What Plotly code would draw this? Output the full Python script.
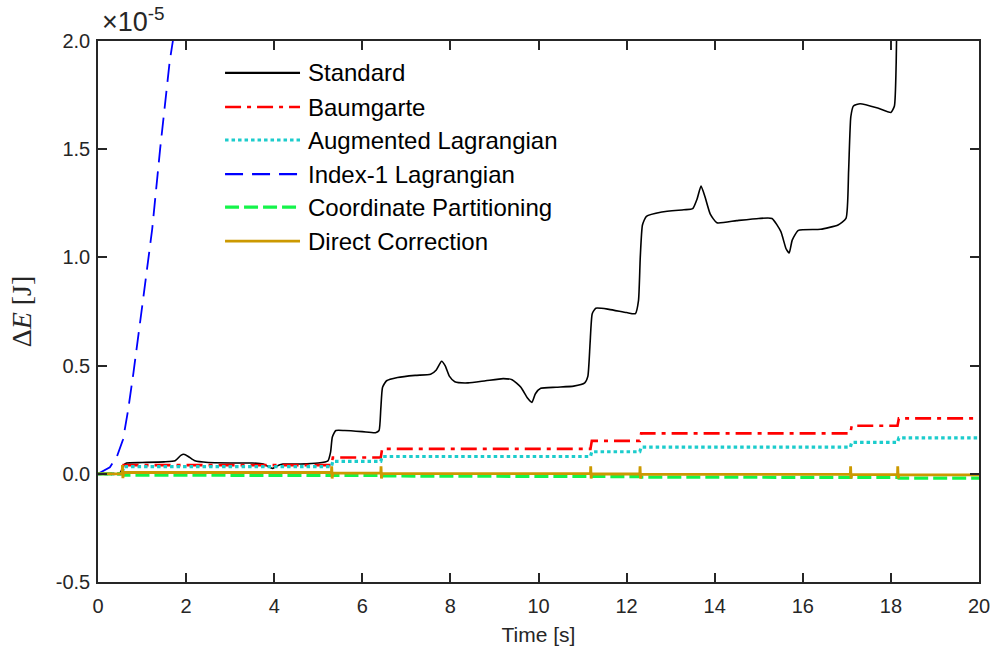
import plotly.graph_objects as go

# Energy drift of the different constraint-stabilisation schemes, in units of 1e-5 J
T_END = 20.0

# Standard (unstabilised) formulation
std_t = [0, 0.45, 0.52, 0.58, 0.65, 1.0, 1.5, 1.75, 1.88, 1.95, 2.05, 2.2, 2.5, 3.0,
         3.5, 3.75, 3.9, 3.97, 4.05, 4.2, 4.6, 5.0, 5.22, 5.28, 5.32, 5.4, 5.6, 6.0,
         6.3, 6.38, 6.42, 6.46, 6.55, 6.8, 7.2, 7.55, 7.68, 7.8, 7.88, 7.98, 8.1, 8.4,
         8.8, 9.2, 9.4, 9.6, 9.75, 9.85, 9.93, 10.05, 10.4, 10.8, 11.05, 11.12, 11.17,
         11.22, 11.3, 11.6, 12.0, 12.2, 12.27, 12.31, 12.36, 12.45, 12.8, 13.3, 13.5,
         13.6, 13.69, 13.78, 13.9, 14.05, 14.5, 15.0, 15.3, 15.5, 15.62, 15.69, 15.76,
         15.9, 16.4, 16.8, 16.98, 17.04, 17.09, 17.15, 17.3, 17.7, 18.0, 18.08, 18.12,
         18.15]
std_dE = [0, 0.0, 0.01, 0.04, 0.05, 0.052, 0.055, 0.06, 0.085, 0.09, 0.08, 0.06, 0.052,
          0.05, 0.05, 0.045, 0.03, 0.025, 0.035, 0.045, 0.045, 0.05, 0.06, 0.1, 0.17,
          0.2, 0.2, 0.195, 0.19, 0.2, 0.3, 0.4, 0.43, 0.445, 0.455, 0.46, 0.48, 0.52,
          0.5, 0.45, 0.425, 0.42, 0.43, 0.44, 0.435, 0.4, 0.35, 0.33, 0.37, 0.395, 0.4,
          0.405, 0.42, 0.45, 0.6, 0.74, 0.765, 0.76, 0.745, 0.74, 0.8, 1.0, 1.15, 1.19,
          1.21, 1.22, 1.225, 1.27, 1.33, 1.28, 1.2, 1.16, 1.17, 1.18, 1.18, 1.12, 1.04,
          1.02, 1.08, 1.125, 1.13, 1.15, 1.18, 1.4, 1.65, 1.7, 1.71, 1.69, 1.67, 1.7,
          1.9, 2.3]

# Index-1 Lagrangian formulation (diverges quickly)
idx1_t = [0, 0.27, 0.43, 0.57, 0.68, 0.8, 1.02, 1.23, 1.41, 1.63, 1.70, 1.8]
idx1_dE = [0, 0.03, 0.08, 0.16, 0.29, 0.46, 0.80, 1.13, 1.50, 1.91, 2.0, 2.18]

# Times at which the stabilised schemes jump (impacts)
switch_t = [0.55, 5.3, 6.42, 11.18, 12.3, 17.08, 18.15]

# Plateau levels after each switch time (first entry: before the first switch)
baum_lv = [0.0, 0.04, 0.075, 0.115, 0.152, 0.187, 0.222, 0.256]
aug_lv = [0.0, 0.033, 0.057, 0.08, 0.102, 0.123, 0.145, 0.166]
cp_lv = [0.0, -0.006, -0.008, -0.01, -0.013, -0.015, -0.017, -0.02]
dc_lv = [0.0, 0.006, 0.003, 0.001, -0.001, -0.003, -0.004, -0.005]
# Short transients of the direct-correction scheme at each switch
dc_spike_hi = [0.04, 0.035, 0.035, 0.035, 0.035, 0.035, 0.035]
dc_spike_lo = [-0.02, -0.022, -0.022, -0.022, -0.022, -0.022, -0.022]

y_ticks = [-0.5, 0.0, 0.5, 1.0, 1.5, 2.0]
y_ticktext = ["-0.5", "0.0", "0.5", "1.0", "1.5", "2.0"]
x_ticks = [0, 2, 4, 6, 8, 10, 12, 14, 16, 18, 20]


def staircase(levels, width=0.03):
    xs, ys = [0.0], [levels[0]]
    for k, ts in enumerate(switch_t):
        xs += [ts, ts + width]
        ys += [levels[k], levels[k + 1]]
    xs.append(T_END)
    ys.append(levels[-1])
    return xs, ys


def spiky(levels, hi, lo):
    xs, ys = [0.0], [levels[0]]
    for k, ts in enumerate(switch_t):
        xs += [ts, ts + 0.005, ts + 0.015, ts + 0.03]
        ys += [levels[k], hi[k], lo[k], levels[k + 1]]
    xs.append(T_END)
    ys.append(levels[-1])
    return xs, ys


series = [
    ("Standard", std_t, std_dE, "#000000", 1.6, "solid"),
    ("Baumgarte", *staircase(baum_lv), "#FF0000", 2.6, "16px,6px,4px,6px"),
    ("Augmented Lagrangian", *staircase(aug_lv), "#1CCCCC", 3.2, "3.5px,3px"),
    ("Index-1 Lagrangian", idx1_t, idx1_dE, "#0000FF", 1.8, "18px,9px"),
    ("Coordinate Partitioning", *staircase(cp_lv), "#14F44A", 3.2, "14px,5px"),
    ("Direct Correction", *spiky(dc_lv, dc_spike_hi, dc_spike_lo), "#CC9900", 2.8, "solid"),
]

fig = go.Figure()
for name, xs, ys, col, lw, dash in series:
    fig.add_trace(go.Scatter(
        x=xs, y=ys, mode="lines", name=name, showlegend=False,
        line=dict(color=col, width=lw, dash=dash,
                  shape="spline" if name == "Standard" else "linear",
                  smoothing=0.5 if name == "Standard" else None),
    ))

# Legend drawn as line samples with labels inside the axes
leg_x0, leg_x1, leg_tx = 0.1442, 0.2293, 0.2360
leg_rows = [0.9409, 0.878, 0.817, 0.754, 0.693, 0.630]
for (name, _, _, col, lw, dash), yy in zip(series, leg_rows):
    fig.add_shape(type="line", xref="paper", yref="paper",
                  x0=leg_x0, x1=leg_x1, y0=yy, y1=yy,
                  line=dict(color=col, width=max(lw, 2.4) if name != "Standard" else 2.2,
                            dash=dash))
    fig.add_annotation(xref="paper", yref="paper", x=leg_tx, y=yy,
                       xanchor="left", yanchor="middle", text=name, showarrow=False,
                       font=dict(family="Liberation Sans, Arial", size=24, color="#000000"))

# Common exponent of the y axis
fig.add_annotation(xref="paper", yref="paper", x=0.0, y=1.0, xanchor="left",
                   yanchor="bottom", yshift=2, xshift=2, showarrow=False,
                   text="×10<sup>-5</sup>",
                   font=dict(family="Liberation Sans, Arial", size=27, color="#262626"))

axis_common = dict(
    showgrid=False, zeroline=False, showline=True, linecolor="#262626", linewidth=1.5,
    mirror="ticks", ticks="inside", ticklen=9, tickwidth=1.5, tickcolor="#262626",
    automargin=False,
    tickfont=dict(family="Liberation Sans, Arial", size=20, color="#262626"),
)

fig.update_layout(
    width=994, height=655,
    margin=dict(l=98, r=15, t=41, b=73),
    paper_bgcolor="white", plot_bgcolor="white",
    xaxis=dict(range=[0, 20], tickvals=x_ticks, ticklabelstandoff=5,
               title=dict(text="Time [s]", standoff=12,
                          font=dict(family="Liberation Sans, Arial", size=21, color="#262626")),
               **axis_common),
    yaxis=dict(range=[-0.5, 2.0], tickvals=y_ticks, ticktext=y_ticktext,
               ticklabelstandoff=2,
               title=dict(text="Δ<i>E</i> [J]", standoff=16,
                          font=dict(family="Liberation Serif, DejaVu Serif", size=28,
                                    color="#262626")),
               **axis_common),
)

fig.write_html("out.html")
